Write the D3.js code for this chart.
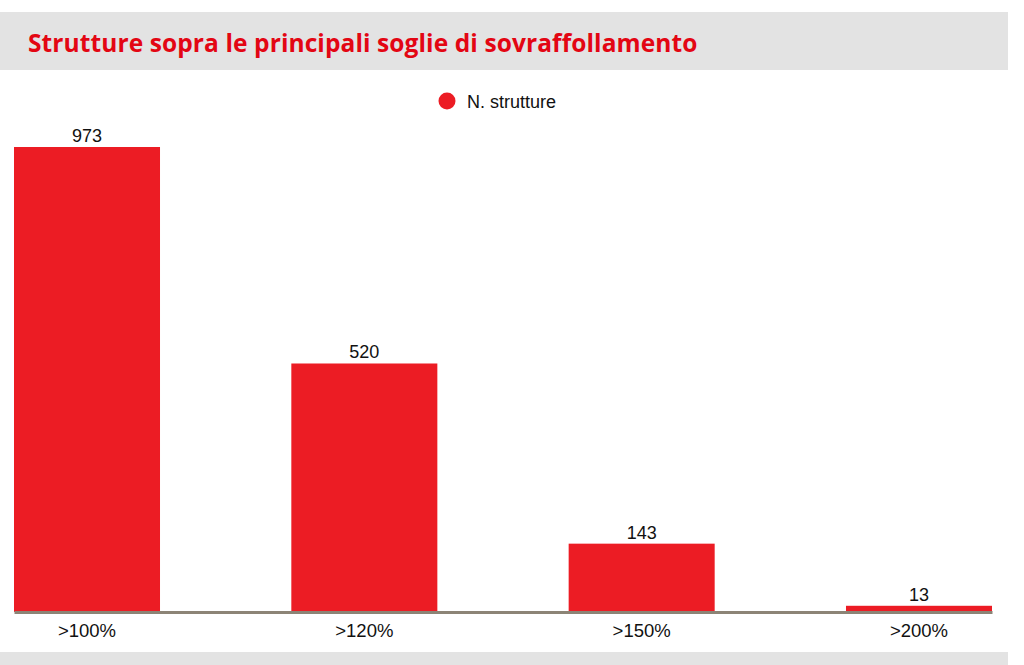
<!DOCTYPE html>
<html><head><meta charset="utf-8">
<script src="https://cdn.jsdelivr.net/npm/d3@7"></script>
<style>html,body{margin:0;padding:0;background:#fff;}svg{display:block;}</style>
</head><body>
<svg id="c" width="1024" height="665"></svg>
<script>
const categories = [">100%", ">120%", ">150%", ">200%"];
const values = [973, 520, 143, 13];
const seriesName = "N. strutture";
const title = "Strutture sopra le principali soglie di sovraffollamento";

const svg = d3.select("#c");
const red = "#ec1c24";
const font = "'Liberation Sans', Arial, sans-serif";

// header
svg.append("rect").attr("x", 0).attr("y", 12).attr("width", 1008).attr("height", 58).attr("fill", "#e3e3e3");
svg.append("text").attr("x", 28).attr("y", 52).text(title)
  .attr("font-family", "'Open Sans', sans-serif").attr("font-weight", 700)
  .attr("font-size", 24.5).attr("fill", "#e30613").attr("letter-spacing", 0.1);

// footer
svg.append("rect").attr("x", 0).attr("y", 652).attr("width", 1008).attr("height", 13).attr("fill", "#e3e3e3");

// legend
svg.append("circle").attr("cx", 447).attr("cy", 101).attr("r", 8.5).attr("fill", red);
svg.append("text").attr("x", 467).attr("y", 108).text(seriesName)
  .attr("font-family", font).attr("font-size", 18).attr("fill", "#111");

const x = d3.scaleBand().domain(categories).range([14, 992]).paddingInner(0.4735).paddingOuter(0);
const y = d3.scaleLinear().domain([0, 973]).range([612, 147]);

const g = svg.append("g");
g.selectAll("rect.bar").data(values).join("rect").attr("class", "bar")
  .attr("x", (d, i) => x(categories[i])).attr("width", x.bandwidth())
  .attr("y", d => y(d)).attr("height", d => y(0) - y(d)).attr("fill", red);

g.selectAll("text.val").data(values).join("text").attr("class", "val")
  .attr("x", (d, i) => x(categories[i]) + x.bandwidth() / 2).attr("y", d => y(d) - 5)
  .attr("text-anchor", "middle").text(d => d)
  .attr("font-family", font).attr("font-size", 18).attr("fill", "#111");

// axis
const ax = svg.append("g").attr("transform", `translate(0,${y(0)})`)
  .call(d3.axisBottom(x).tickSize(0).tickPadding(12));
ax.select(".domain").attr("stroke", "#8c8476").attr("stroke-width", 3);
ax.selectAll("text").attr("font-family", font)
  .attr("font-size", 18.5).attr("fill", "#111");
</script>
</body></html>
